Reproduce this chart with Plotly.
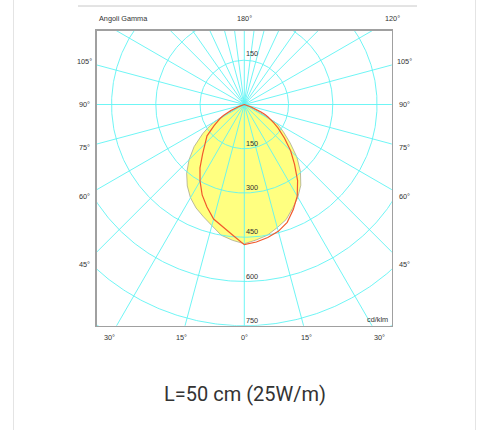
import numpy as np
import plotly.graph_objects as go

# ---------------- data (cd/klm vs gamma angle from nadir, degrees) ----------------
gamma = [0, 5, 10, 15, 20, 25, 30, 35, 40, 45, 50, 55, 58, 60, 62, 64, 66, 70, 75, 80, 90]
yellow_left = [472, 462, 450, 425, 405, 387, 365, 337, 304, 265, 222, 172, 140, 115, 75, 48, 28, 8, 2, 0, 0]
yellow_right = [472, 461, 450, 432, 415, 388, 363, 334, 296, 252, 203, 162, 140, 122, 80, 50, 28, 8, 2, 0, 0]
red_left = [475, 445, 422, 402, 370, 338, 300, 262, 220, 190, 165, 125, 105, 95, 80, 65, 50, 18, 4, 0, 0]
red_right = [475, 468, 458, 445, 425, 393, 359, 315, 265, 222, 178, 140, 118, 105, 92, 78, 62, 25, 6, 0, 0]

radial_ticks = [150, 300, 450, 600, 750]
grid_circles = [150, 300, 450, 600, 750, 900]
# radial grid rays, gamma angles (0 = down, 180 = up), both sides
ray_gamma = [0, 15, 30, 45, 60, 75, 90, 105, 120, 135, 145, 155, 165, 172.5, 180]
side_labels = [105, 90, 75, 60, 45]
bottom_labels = [30, 15, 0, 15, 30]
bottom_signs = [-1, -1, 0, 1, 1]
caption = "L=50 cm (25W/m)"

# ---------------- geometry helpers ----------------
W, H = 479, 430
XR = [-500, 500]
YR = [-750, 250]
box_px = dict(l=96.8, r=391.8, t=30.75, b=325.75)
xdom = [box_px['l'] / W, box_px['r'] / W]
ydom = [1 - box_px['b'] / H, 1 - box_px['t'] / H]


def to_paper(xd, yd):
    px = xdom[0] + (xd - XR[0]) / (XR[1] - XR[0]) * (xdom[1] - xdom[0])
    py = ydom[0] + (yd - YR[0]) / (YR[1] - YR[0]) * (ydom[1] - ydom[0])
    return px, py


def polar_xy(g_list, r_list, side):
    g = np.radians(np.array(g_list, dtype=float))
    r = np.array(r_list, dtype=float)
    return side * r * np.sin(g), -r * np.cos(g)


def closed_curve(left, right):
    xl, yl = polar_xy(gamma, left, -1)
    xr, yr = polar_xy(gamma, right, 1)
    x = np.concatenate([xl[::-1], xr])
    y = np.concatenate([yl[::-1], yr])
    return x, y


fig = go.Figure()

# yellow distribution (filled)
yx, yy = closed_curve(yellow_left, yellow_right)
fig.add_trace(go.Scatter(x=yx, y=yy, mode='lines', fill='toself', fillcolor='#ffff80',
                         line=dict(color='rgba(160,160,140,0.9)', width=0.8),
                         hoverinfo='skip', showlegend=False))

# grid circles
cx, cy = [], []
t = np.linspace(0, 2 * np.pi, 721)
for r in grid_circles:
    cx += list(r * np.sin(t)) + [None]
    cy += list(r * np.cos(t)) + [None]
fig.add_trace(go.Scatter(x=cx, y=cy, mode='lines', line=dict(color='#5ff4f4', width=0.9),
                         hoverinfo='skip', showlegend=False))

# grid rays
rx, ry = [], []
for g in ray_gamma:
    for side in (-1, 1):
        if side == 1 and g in (0, 180):
            continue
        gr = np.radians(g)
        rx += [0, side * 1500 * np.sin(gr), None]
        ry += [0, -1500 * np.cos(gr), None]
fig.add_trace(go.Scatter(x=rx, y=ry, mode='lines', line=dict(color='#5ff4f4', width=0.9),
                         hoverinfo='skip', showlegend=False))

# red distribution
rcx, rcy = closed_curve(red_left, red_right)
fig.add_trace(go.Scatter(x=rcx, y=rcy, mode='lines', line=dict(color='#f25a2c', width=1.2),
                         hoverinfo='skip', showlegend=False))

small = dict(family='Liberation Sans, Arial, sans-serif', size=7.3, color='#333333')
ann = []

# radial value labels
for r in radial_ticks:
    ann.append(dict(x=0, y=-r, xref='x', yref='y', text=str(r), showarrow=False,
                    xanchor='left', yanchor='bottom', font=small, xshift=0, yshift=-1))
ann.append(dict(x=0, y=radial_ticks[0], xref='x', yref='y', text=str(radial_ticks[0]),
                showarrow=False, xanchor='left', yanchor='bottom', font=small, yshift=0))
ann.append(dict(x=493, y=-728, xref='x', yref='y', text='cd/klm', showarrow=False,
                xanchor='right', yanchor='middle', font=small))

# gamma labels outside the box
OUT_X, OUT_TOP, OUT_BOT = 542, 290, 791
for g in side_labels:
    gr = np.radians(g)
    yd = -np.cos(gr) * OUT_X / np.sin(gr)
    for side in (-1, 1):
        px, py = to_paper(side * OUT_X, yd)
        ann.append(dict(x=px, y=py, xref='paper', yref='paper', text=f'{g}°', showarrow=False,
                        xanchor='center', yanchor='middle', font=small))
for g, s in zip(bottom_labels, bottom_signs):
    xd = s * OUT_BOT * np.tan(np.radians(g))
    px, py = to_paper(xd, -OUT_BOT)
    ann.append(dict(x=px, y=py, xref='paper', yref='paper', text=f'{g}°', showarrow=False,
                    xanchor='center', yanchor='middle', font=small))
for g, s in [(180, 1), (120, 1)]:
    gr = np.radians(g)
    tt = OUT_TOP / (-np.cos(gr))
    xd = s * tt * np.sin(gr)
    px, py = to_paper(xd, OUT_TOP)
    ann.append(dict(x=px, y=py, xref='paper', yref='paper', text=f'{g}°', showarrow=False,
                    xanchor='center', yanchor='middle', font=small))
px, py = to_paper(XR[0], OUT_TOP)
ann.append(dict(x=px, y=py, xref='paper', yref='paper', text='Angoli Gamma', showarrow=False,
                xanchor='left', yanchor='middle', font=small))

# caption
ann.append(dict(x=244.5 / W, y=1 - 393.5 / H, xref='paper', yref='paper', text=caption,
                showarrow=False, xanchor='center', yanchor='middle',
                font=dict(family='Roboto, sans-serif', size=20, color='#333333')))

shapes = [
    dict(type='line', xref='paper', yref='paper', x0=13.5 / W, x1=13.5 / W, y0=0, y1=1,
         line=dict(color='#e4e4e4', width=1)),
    dict(type='line', xref='paper', yref='paper', x0=475.5 / W, x1=475.5 / W, y0=0, y1=1,
         line=dict(color='#e4e4e4', width=1)),
    dict(type='line', xref='paper', yref='paper', x0=78 / W, x1=417 / W, y0=1 - 6 / H, y1=1 - 6 / H,
         line=dict(color='#c8c8c8', width=1)),
]

axis_common = dict(showgrid=False, zeroline=False, showticklabels=False, ticks='',
                   showline=True, mirror=True, linecolor='#a0a0a0', linewidth=1.5, fixedrange=True)
fig.update_layout(
    width=W, height=H, margin=dict(l=0, r=0, t=0, b=0),
    paper_bgcolor='white', plot_bgcolor='white',
    xaxis=dict(domain=xdom, range=XR, **axis_common),
    yaxis=dict(domain=ydom, range=YR, **axis_common),
    annotations=ann, shapes=shapes, showlegend=False,
)

fig.write_html("out.html", config={'displayModeBar': False, 'staticPlot': True},
               post_script="document.body.style.margin='0px';document.body.style.overflow='hidden';")
